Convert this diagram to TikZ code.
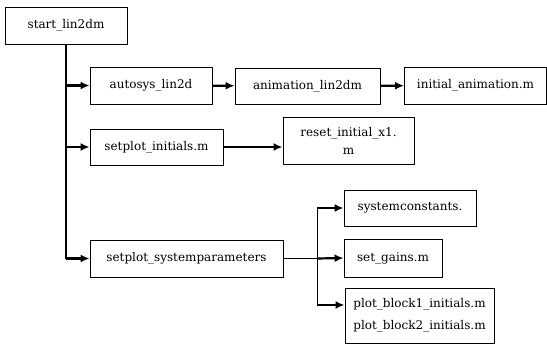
\documentclass[tikz,border=0pt]{standalone}
\usepackage{fontspec}
\setmainfont{DejaVu Serif}
\usetikzlibrary{arrows.meta}

\begin{document}
\begin{tikzpicture}[x=1pt,y=-1pt]
\tikzstyle filebox=[draw,line width=0.9pt,align=center,inner sep=0pt,font=\fontsize{12}{18}\selectfont]
\tikzstyle call=[line width=2.2pt,-{Latex[length=9pt,width=8pt]}]
\tikzstyle trunk=[line width=1.5pt]
\useasboundingbox (0,0) rectangle (547,345);
% files
\node[filebox,minimum width=122,minimum height=37] (start) at (66,25.5) {start\_lin2dm};
\node[filebox,minimum width=122,minimum height=37] (autosys) at (151,85.5) {autosys\_lin2d};
\node[filebox,minimum width=145,minimum height=36] (anim) at (307.5,86) {animation\_lin2dm};
\node[filebox,minimum width=142,minimum height=37] (initanim) at (475.5,85.5) {initial\_animation.m};
\node[filebox,minimum width=133,minimum height=36] (setini) at (156.5,147) {setplot\_initials.m};
\node[filebox,minimum width=131,minimum height=47] (reset) at (348.5,140.5) {reset\_initial\_x1.\\m};
\node[filebox,minimum width=193,minimum height=37] (setsys) at (186.5,258.5) {setplot\_systemparameters};
\node[filebox,minimum width=132,minimum height=36] (syscon) at (410,208) {systemconstants.};
\node[filebox,minimum width=98,minimum height=38] (gains) at (393,258) {set\_gains.m};
\node[filebox,minimum width=149,minimum height=55] (plotblk) at (419.5,315.5) {plot\_block1\_initials.m\\[4pt]plot\_block2\_initials.m};
% calls
\draw[trunk] (start.south) -- (start.south |- setsys.west);
\draw[call] (start.south |- autosys.west) -- (autosys.west);
\draw[call] (start.south |- setini.west) -- (setini.west);
\draw[call] (start.south |- setsys.west) -- (setsys.west);
\draw[call] (autosys) -- (anim);
\draw[call] (anim) -- (initanim);
\draw[call] (setini.east) -- (setini.east -| reset.west);
\draw[trunk] (setsys.east) -- ++(34,0) coordinate (split);
\coordinate (pbin) at ([yshift=10.5pt]plotblk.west);
\draw[trunk] (split |- syscon.west) -- (split |- pbin);
\draw[call] (split |- syscon.west) -- (syscon.west);
\draw[call] (split) -- (gains.west);
\draw[call] (split |- pbin) -- (pbin);
\end{tikzpicture}
\end{document}
